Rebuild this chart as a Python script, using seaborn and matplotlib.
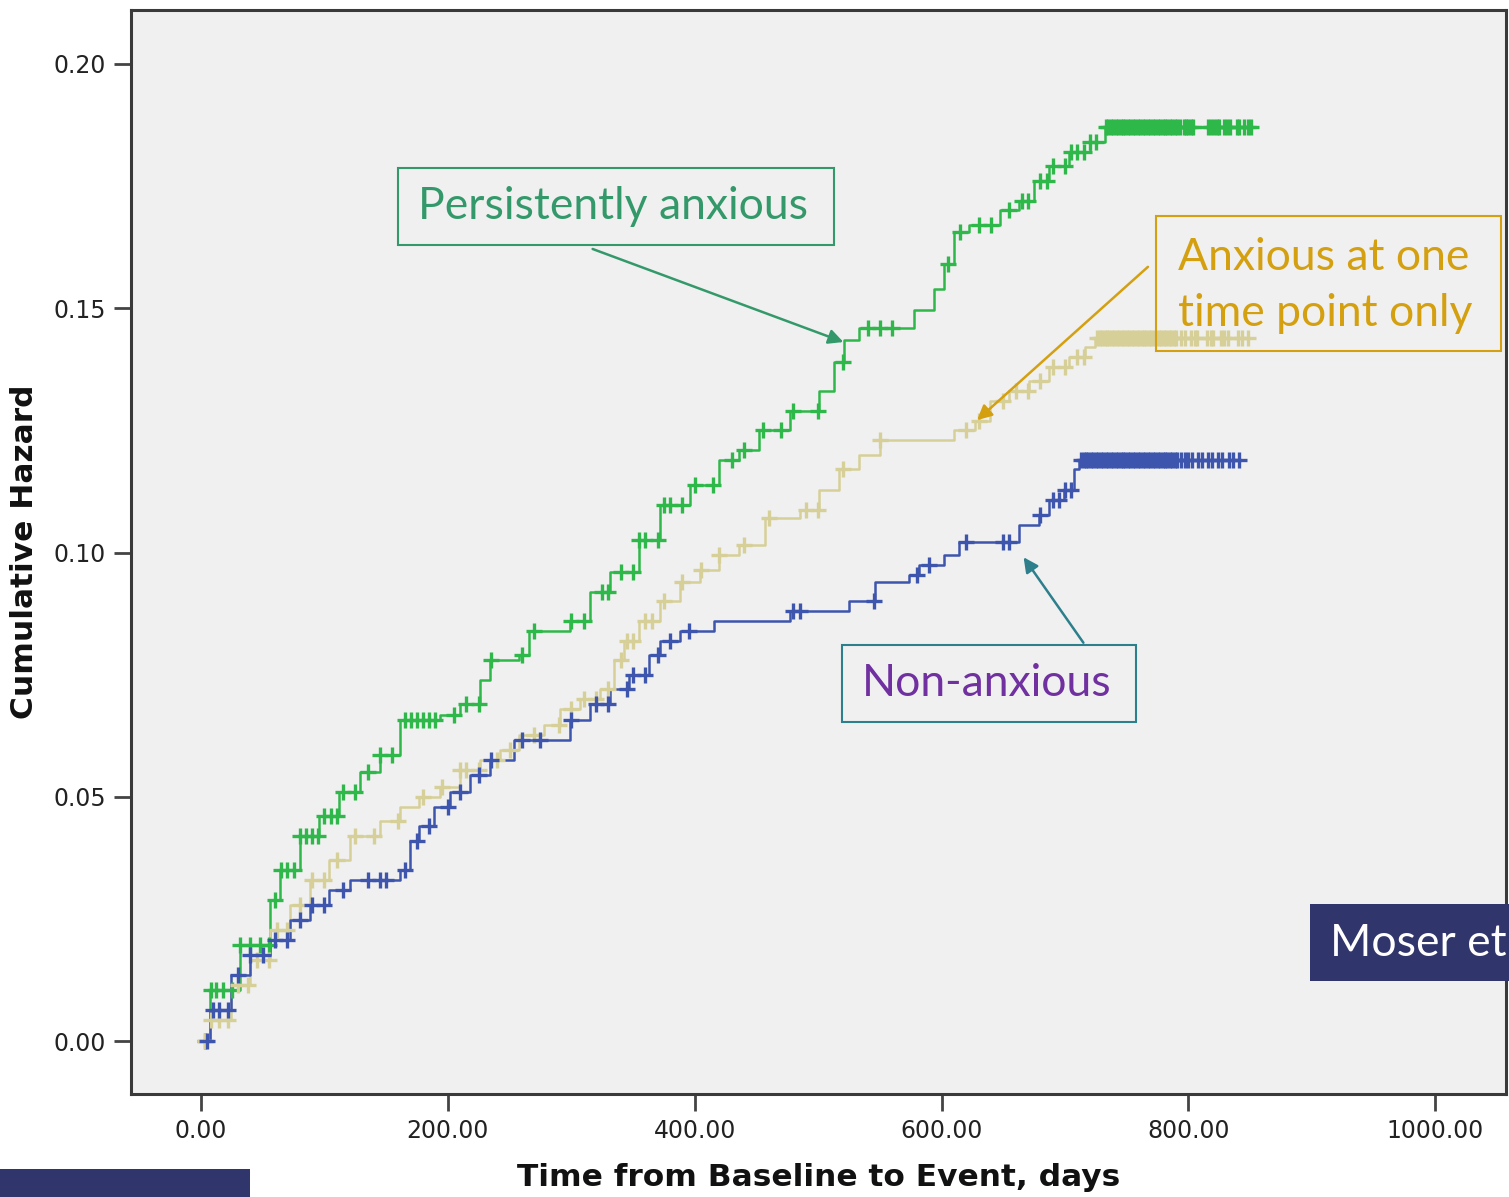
# Cumulative hazard by anxiety group (SPSS-style step plot with censor marks)
import numpy as np
import pandas as pd
import matplotlib
matplotlib.use('Agg')
import matplotlib.pyplot as plt
from matplotlib.patches import Rectangle, FancyArrowPatch
import seaborn as sns

# event times (days) and cumulative hazard after each step
persist_t = [0, 7, 32, 56, 64, 80, 96, 112, 129, 145, 161, 194, 210, 226, 234, 258, 266,
             299, 315, 331, 355, 372, 396, 420, 436, 452, 477, 501, 513, 521, 533, 578,
             594, 602, 610, 622, 647, 663, 675, 687, 703, 720, 732, 853]
persist_h = [0, 0.0104, 0.0197, 0.029, 0.035, 0.042, 0.046, 0.051, 0.055, 0.0585, 0.0657,
             0.0667, 0.069, 0.074, 0.078, 0.079, 0.084, 0.086, 0.092, 0.096, 0.1025, 0.1097,
             0.1138, 0.119, 0.121, 0.125, 0.129, 0.133, 0.139, 0.1435, 0.146, 0.1496, 0.154,
             0.159, 0.1656, 0.167, 0.170, 0.172, 0.176, 0.179, 0.182, 0.184, 0.187, 0.187]

once_t = [0, 7, 24, 40, 56, 72, 88, 104, 121, 145, 161, 177, 194, 210, 226, 242, 258, 278,
          291, 307, 323, 335, 343, 355, 372, 388, 404, 420, 436, 457, 485, 501, 517, 533,
          550, 610, 627, 639, 655, 671, 687, 703, 716, 724, 853]
once_h = [0, 0.0043, 0.0115, 0.0166, 0.0227, 0.0278, 0.033, 0.037, 0.042, 0.045, 0.048,
          0.050, 0.052, 0.0555, 0.0575, 0.0596, 0.0626, 0.0647, 0.068, 0.070, 0.072, 0.078,
          0.082, 0.086, 0.090, 0.094, 0.0964, 0.0995, 0.1015, 0.107, 0.1087, 0.1128, 0.117,
          0.120, 0.123, 0.125, 0.127, 0.131, 0.133, 0.135, 0.138, 0.140, 0.142, 0.144, 0.144]

non_t = [0, 7, 24, 40, 56, 72, 88, 104, 121, 161, 169, 177, 189, 202, 218, 234, 254, 299,
         315, 331, 347, 363, 372, 388, 416, 477, 525, 546, 574, 582, 602, 614, 663, 679,
         687, 699, 707, 711, 845]
non_h = [0, 0.0063, 0.0135, 0.0176, 0.0207, 0.0248, 0.0278, 0.031, 0.033, 0.035, 0.041,
         0.044, 0.048, 0.051, 0.0545, 0.0575, 0.0616, 0.0657, 0.069, 0.072, 0.075, 0.079,
         0.082, 0.084, 0.086, 0.088, 0.090, 0.094, 0.0954, 0.0974, 0.0995, 0.1022, 0.1056,
         0.1077, 0.1107, 0.1128, 0.117, 0.119, 0.119]

# censored observations (days)
persist_c = [3, 8, 12, 18, 25, 32, 40, 48, 55, 60, 65, 70, 75, 80, 85, 90, 95, 100, 105, 110,
             115, 125, 135, 145, 155, 165, 170, 175, 180, 185, 190, 205, 215, 225, 235, 260,
             270, 300, 310, 325, 330, 340, 350, 355, 360, 370, 375, 380, 390, 400, 415, 430,
             440, 455, 470, 480, 500, 520, 540, 550, 560, 605, 615, 630, 640, 655, 665, 670,
             680, 685, 690, 700, 705, 710, 715, 720, 725,
             733, 735, 737, 739, 741, 743, 745, 747, 749, 751, 753, 755, 757, 759, 761, 763,
             765, 767, 769, 771, 773, 775, 777, 779, 781, 783, 785, 787, 789, 791, 793, 796,
             798, 800, 802, 804, 816, 818, 821, 823, 825, 829, 831, 834, 839, 841, 845, 848,
             851]
once_c = [3, 8, 15, 22, 30, 38, 45, 55, 62, 70, 80, 90, 100, 110, 125, 140, 160, 180, 195,
          210, 215, 225, 240, 250, 270, 290, 300, 310, 320, 330, 340, 345, 350, 360, 365, 375,
          390, 405, 420, 440, 460, 490, 500, 520, 550, 620, 630, 650, 660, 670, 680, 690, 700,
          710, 715,
          726, 728, 730, 732, 734, 736, 738, 740, 742, 744, 746, 748, 750, 752, 754, 756, 758,
          760, 762, 764, 766, 768, 770, 772, 774, 776, 778, 780, 782, 784, 786, 788, 790, 794,
          797, 802, 805, 807, 815, 818, 820, 826, 829, 832, 840, 843, 848]
non_c = [5, 10, 15, 22, 30, 40, 50, 60, 70, 80, 90, 100, 115, 135, 145, 150, 165, 175, 185,
         200, 210, 225, 235, 260, 275, 300, 320, 330, 345, 350, 360, 370, 380, 395, 480, 485,
         545, 580, 590, 620, 650, 655, 680, 690, 695, 700, 705,
         713, 715, 717, 719, 721, 723, 725, 727, 729, 731, 733, 735, 737, 739, 741, 743, 745,
         747, 749, 751, 753, 755, 757, 759, 761, 763, 765, 767, 769, 771, 773, 775, 777, 779,
         781, 783, 785, 787, 789, 791, 794, 797, 800, 803, 808, 811, 816, 819, 824, 827, 833,
         836, 841]

groups = ['Persistently anxious', 'Anxious at one time point only', 'Non-anxious']
colors = ['#2fb84a', '#d6cf98', '#3d55ad']

sns.set_theme(style='white')
plt.rcParams['font.family'] = ['DejaVu Sans']

fig = plt.figure(figsize=(15.09, 11.97), dpi=100)
ax = fig.add_axes([0.0868, 0.086, 0.911, 0.9056])
ax.set_facecolor('#f0f0f0')

curves = [(persist_t, persist_h, persist_c), (once_t, once_h, once_c), (non_t, non_h, non_c)]
for name, col, (t, h, c) in zip(groups, colors, curves):
    df = pd.DataFrame({'t': t, 'h': h})
    sns.lineplot(data=df, x='t', y='h', ax=ax, color=col, lw=1.8, drawstyle='steps-post',
                 sort=False, estimator=None)
    idx = np.searchsorted(t, c, side='right') - 1
    cdf = pd.DataFrame({'t': c, 'h': np.array(h)[idx]})
    sns.scatterplot(data=cdf, x='t', y='h', ax=ax, marker='+', color=col, s=140,
                    linewidth=2.4, zorder=3)

ax.set_xlim(-56.7, 1057)
ax.set_ylim(-0.0108, 0.211)
ax.set_xticks([0, 200, 400, 600, 800, 1000])
ax.set_xticklabels(['0.00', '200.00', '400.00', '600.00', '800.00', '1000.00'])
ax.set_yticks([0, 0.05, 0.10, 0.15, 0.20])
ax.set_yticklabels(['0.00', '0.05', '0.10', '0.15', '0.20'])
ax.tick_params(axis='both', direction='out', length=12, width=2, color='#444444',
               labelsize=17, labelcolor='#222222', bottom=True, left=True, pad=6)
for sp in ax.spines.values():
    sp.set_color('#3a3a3a')
    sp.set_linewidth(2.2)

ax.set_xlabel('Time from Baseline to Event, days', fontsize=22.5, fontweight='bold',
              color='#111111', labelpad=14)
ax.set_ylabel('Cumulative Hazard', fontsize=22.5, fontweight='bold', color='#111111',
              labelpad=10)

# annotation boxes (figure pixel coordinates, origin top-left)
W, H = 1509, 1197


def fx(px):
    return px / W


def fy(py):
    return 1 - py / H


def box(x0, y0, x1, y1, ec, fc='none', lw=1.5):
    fig.patches.append(Rectangle((fx(x0), fy(y1)), fx(x1) - fx(x0), fy(y0) - fy(y1),
                                 transform=fig.transFigure, fill=fc != 'none', fc=fc,
                                 ec=ec, lw=lw, zorder=5))


def arrow(p0, p1, col):
    fig.add_artist(FancyArrowPatch(
        (fx(p0[0]), fy(p0[1])), (fx(p1[0]), fy(p1[1])), transform=fig.transFigure,
        arrowstyle='-|>', mutation_scale=22, color=col, lw=1.8, zorder=6))


def label(px, py, s, col):
    fig.text(fx(px), fy(py), s, fontsize=32, color=col, family=['Lato', 'DejaVu Sans'],
             va='center', ha='left', zorder=10)


green_t = '#34996a'
gold = '#d4a010'
teal = '#2d7f8c'

box(398, 168, 834, 245, green_t)
label(418, 207, 'Persistently anxious', green_t)
arrow((590, 248), (846, 343), green_t)

box(1156, 216, 1501, 351, gold)
label(1178, 257, 'Anxious at one', gold)
label(1178, 314, 'time point only', gold)
arrow((1150, 265), (975, 422), gold)

box(842, 645, 1136, 722, teal)
label(862, 684, 'Non-anxious', '#7030a0')
arrow((1085, 645), (1022, 555), teal)

navy = '#30356b'
box(1310, 904, 1520, 981, navy, fc=navy, lw=0)
label(1330, 943, 'Moser et', 'white')
box(0, 1169, 250, 1200, navy, fc=navy, lw=0)

fig.savefig('out.png', dpi=100, facecolor='white')
